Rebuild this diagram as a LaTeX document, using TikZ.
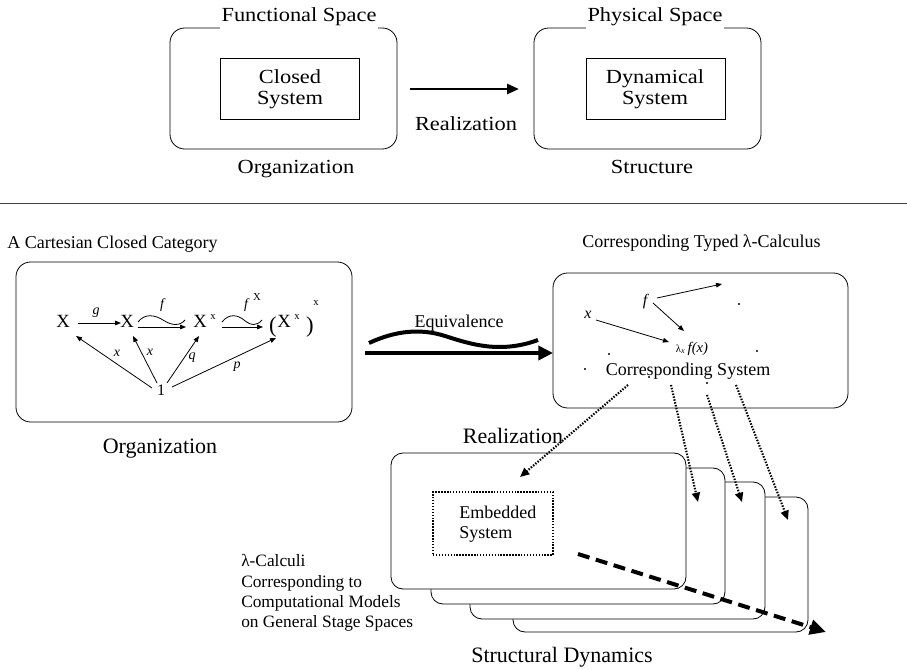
\documentclass[tikz,border=0pt]{standalone}
\usepackage{fontspec}
\setmainfont{Liberation Serif}
\newfontfamily\topfont{Liberation Serif}[FakeStretch=1.12]
\usetikzlibrary{arrows.meta,fit}
\begin{document}
\begin{tikzpicture}[x=0.75pt,y=-0.75pt,
  rbox/.style={draw, rounded corners=11pt, inner sep=0pt, line width=0.6pt},
  sbox/.style={draw, rounded corners=9pt, inner sep=0pt, line width=0.6pt, fill=white},
  plainbox/.style={draw, inner sep=0pt, line width=0.6pt},
  toplbl/.style={font=\topfont\fontsize{15pt}{18pt}\selectfont, inner sep=0pt, anchor=base},
  biglbl/.style={font=\fontsize{16.5pt}{19pt}\selectfont, inner sep=0pt, anchor=base},
  midlbl/.style={font=\fontsize{13.5pt}{16pt}\selectfont, inner sep=0pt, anchor=base},
  catobj/.style={font=\fontsize{14pt}{16pt}\selectfont, inner sep=0pt, anchor=base},
  catlbl/.style={font=\fontsize{10.5pt}{12pt}\selectfont\itshape, inner sep=0pt},
  supx/.style={font=\fontsize{8pt}{9pt}\selectfont, inner sep=0pt},
  catarr/.style={line width=0.6pt, -{Triangle[length=4.5pt,width=3.5pt]}},
  dotarr/.style={line width=1.6pt, dash pattern=on 1.1pt off 1.1pt, -{Triangle[length=7pt,width=6pt]}},
]
\useasboundingbox (0,0) rectangle (907,670);
\fill[white] (0,0) rectangle (907,670);

% ---------------- top part ----------------
\node[rbox, fit={(170,28) (397,149)}] (fsbox) {};
\node[plainbox, fit={(220,58) (359,119)}] (csbox) {};
\node[rbox, fit={(534,28) (761,149)}] (psbox) {};
\node[plainbox, fit={(586,58) (725,119)}] (dsbox) {};
\node[toplbl, fill=white, inner xsep=1pt, inner ysep=3pt] (fslbl) at (299,22) {Functional Space};
\node[toplbl, fill=white, inner xsep=1pt, inner ysep=3pt] (pslbl) at (655,22) {Physical Space};
\node[toplbl] (cs1) at (290,84) {Closed};
\node[toplbl] (cs2) at (290,105) {System};
\node[toplbl] (ds1) at (655,84) {Dynamical};
\node[toplbl] (ds2) at (655,105) {System};
\node[toplbl] (org1) at (296,174) {Organization};
\node[toplbl] (str1) at (652,174) {Structure};
\node[toplbl] (real1) at (466,131) {Realization};
\coordinate (ra1) at (410,89);
\coordinate (ra2) at (519,89);
\draw[line width=2pt, -{Triangle[length=9pt,width=7.5pt]}] (ra1) -- (ra2);

% separator
\coordinate (sepL) at (0,203);
\coordinate (sepR) at (907,203);
\draw[line width=0.6pt, black!75] (sepL) -- (sepR);

% ---------------- lower left: category ----------------
\node[midlbl, anchor=base west] (cccl) at (7,249) {A Cartesian Closed Category};
\node[rbox, fit={(16,262) (352,422)}] (ccbox) {};
\node[biglbl] (org2) at (160,453) {Organization};

\node[catobj] (X1) at (63,328) {X};
\node[catobj] (X2) at (127,328) {X};
\node[catobj] (X3) at (200,328) {X};
\node[supx] (X3s) at (213,317) {x};
\node[font=\fontsize{17pt}{19pt}\selectfont, inner sep=0pt, anchor=base] (lp) at (273,333) {(};
\node[catobj] (X4) at (284,328) {X};
\node[supx] (X4s) at (297,317) {x};
\node[font=\fontsize{17pt}{19pt}\selectfont, inner sep=0pt, anchor=base] (rp) at (310,333) {)};
\node[supx] (X4o) at (316,303) {x};
\node[catobj, font=\fontsize{12pt}{14pt}\selectfont] (one) at (161,395) {1};

\coordinate (g1) at (78,323);  \coordinate (g2) at (121,323);
\draw[catarr] (g1) -- (g2);
\node[catlbl] (glbl) at (96,313) {g};

\coordinate (f1) at (138,327); \coordinate (f2) at (186,327);
\draw[catarr] (f1) -- (f2);
\draw[line width=0.6pt] (138,322) .. controls (145,313) and (155,315) .. (163,320) .. controls (172,326) and (180,326) .. (185,320);
\node[catlbl] (flbl) at (162,305) {f};

\coordinate (h1) at (222,327); \coordinate (h2) at (263,327);
\draw[catarr] (h1) -- (h2);
\draw[line width=0.6pt] (222,322) .. controls (229,313) and (238,315) .. (244,320) .. controls (251,326) and (257,326) .. (262,320);
\node[catlbl] (fxlbl) at (246,305) {f};
\node[supx] (fxs) at (257,297) {X};

\coordinate (o1) at (152,388); \coordinate (e1) at (76,336);
\coordinate (o2) at (157,383); \coordinate (e2) at (133,336);
\coordinate (o3) at (167,383); \coordinate (e3) at (199,336);
\coordinate (o4) at (172,387); \coordinate (e4) at (276,338);
\draw[catarr] (o1) -- (e1);
\draw[catarr] (o2) -- (e2);
\draw[catarr] (o3) -- (e3);
\draw[catarr] (o4) -- (e4);
\node[catlbl] (lx1) at (117,353) {x};
\node[catlbl] (lx2) at (150,352) {x};
\node[catlbl] (lq) at (192,358) {q};
\node[catlbl] (lp2) at (237,367) {p};

% ---------------- equivalence ----------------
\node[midlbl] (eqlbl) at (459,328) {Equivalence};
\draw[line width=3pt] (369,343) .. controls (395,331) and (420,328) .. (445,336) .. controls (470,344) and (500,354) .. (538,340);
\coordinate (eqa) at (365,353);
\coordinate (eqb) at (553,353);
\draw[line width=3pt, -{Triangle[length=11pt,width=10.5pt]}] (eqa) -- (eqb);

% ---------------- right: lambda calculus ----------------
\node[midlbl, anchor=base west] (ctl) at (582,248) {Corresponding Typed λ-Calculus};
\node[rbox, fit={(553,273) (848,408)}] (lcbox) {};
\node[catlbl, font=\fontsize{12pt}{14pt}\selectfont\itshape] (rf) at (645,302) {f};
\node[catlbl, font=\fontsize{12pt}{14pt}\selectfont\itshape] (rx) at (588,315) {x};
\node[inner sep=0pt] (lam) at (692,349) {\fontsize{8pt}{9pt}\selectfont λ\textsubscript{\itshape x}\fontsize{11pt}{12pt}\selectfont\itshape\,f(x)};
\coordinate (rf1) at (657,298); \coordinate (rf2) at (722,284);
\coordinate (rf3) at (653,303); \coordinate (rf4) at (684,331);
\coordinate (rx1) at (596,320); \coordinate (rx2) at (669,342);
\draw[catarr] (rf1) -- (rf2);
\draw[catarr] (rf3) -- (rf4);
\draw[catarr] (rx1) -- (rx2);
\node[midlbl] (csys) at (688,375) {Corresponding System};
\foreach \p in {(739,304),(757,351),(609,354),(585,369),(649,377),(707,383)}
  \fill \p circle (0.9pt);

% ---------------- stacked boxes ----------------
\node[sbox, fit={(513,497) (808,632)}] (sb4) {};
\node[sbox, fit={(470,482) (765,619)}] (sb3) {};
\node[sbox, fit={(431,468) (725,604)}] (sb2) {};
\node[sbox, fit={(391,453) (686,589)}] (sb1) {};
\node[draw, line width=1.6pt, dash pattern=on 1.1pt off 1.1pt, inner sep=0pt, fit={(433,492) (553,555)}] (emb) {};
\node[midlbl, anchor=base west] (emb1) at (459,518) {Embedded};
\node[midlbl, anchor=base west] (emb2) at (459,538) {System};

\node[biglbl] (real2) at (513,443) {Realization};
\node[biglbl] (sdyn) at (562,662) {Structural Dynamics};

\node[font=\fontsize{13pt}{15pt}\selectfont, inner sep=0pt, anchor=base west] (lc1) at (241,566) {λ-Calculi};
\node[font=\fontsize{13pt}{15pt}\selectfont, inner sep=0pt, anchor=base west] (lc2) at (241,587) {Corresponding to};
\node[font=\fontsize{13pt}{15pt}\selectfont, inner sep=0pt, anchor=base west] (lc3) at (241,607) {Computational Models};
\node[font=\fontsize{13pt}{15pt}\selectfont, inner sep=0pt, anchor=base west] (lc4) at (241,627) {on General Stage Spaces};

% dotted realization arrows
\coordinate (d1s) at (628,385); \coordinate (d1e) at (520,477);
\coordinate (d2s) at (671,385); \coordinate (d2e) at (698,502);
\coordinate (d3s) at (707,395); \coordinate (d3e) at (742,502);
\coordinate (d4s) at (736,385); \coordinate (d4e) at (788,520);
\draw[dotarr] (d1s) -- (d1e);
\draw[dotarr] (d2s) -- (d2e);
\draw[dotarr] (d3s) -- (d3e);
\draw[dotarr] (d4s) -- (d4e);

% thick dashed arrow
\coordinate (ds1) at (578,554); \coordinate (ds2) at (826,632);
\draw[line width=3pt, dash pattern=on 9pt off 5pt, -{Triangle[length=12pt,width=11pt]}] (ds1) -- (ds2);
\end{tikzpicture}
\end{document}
